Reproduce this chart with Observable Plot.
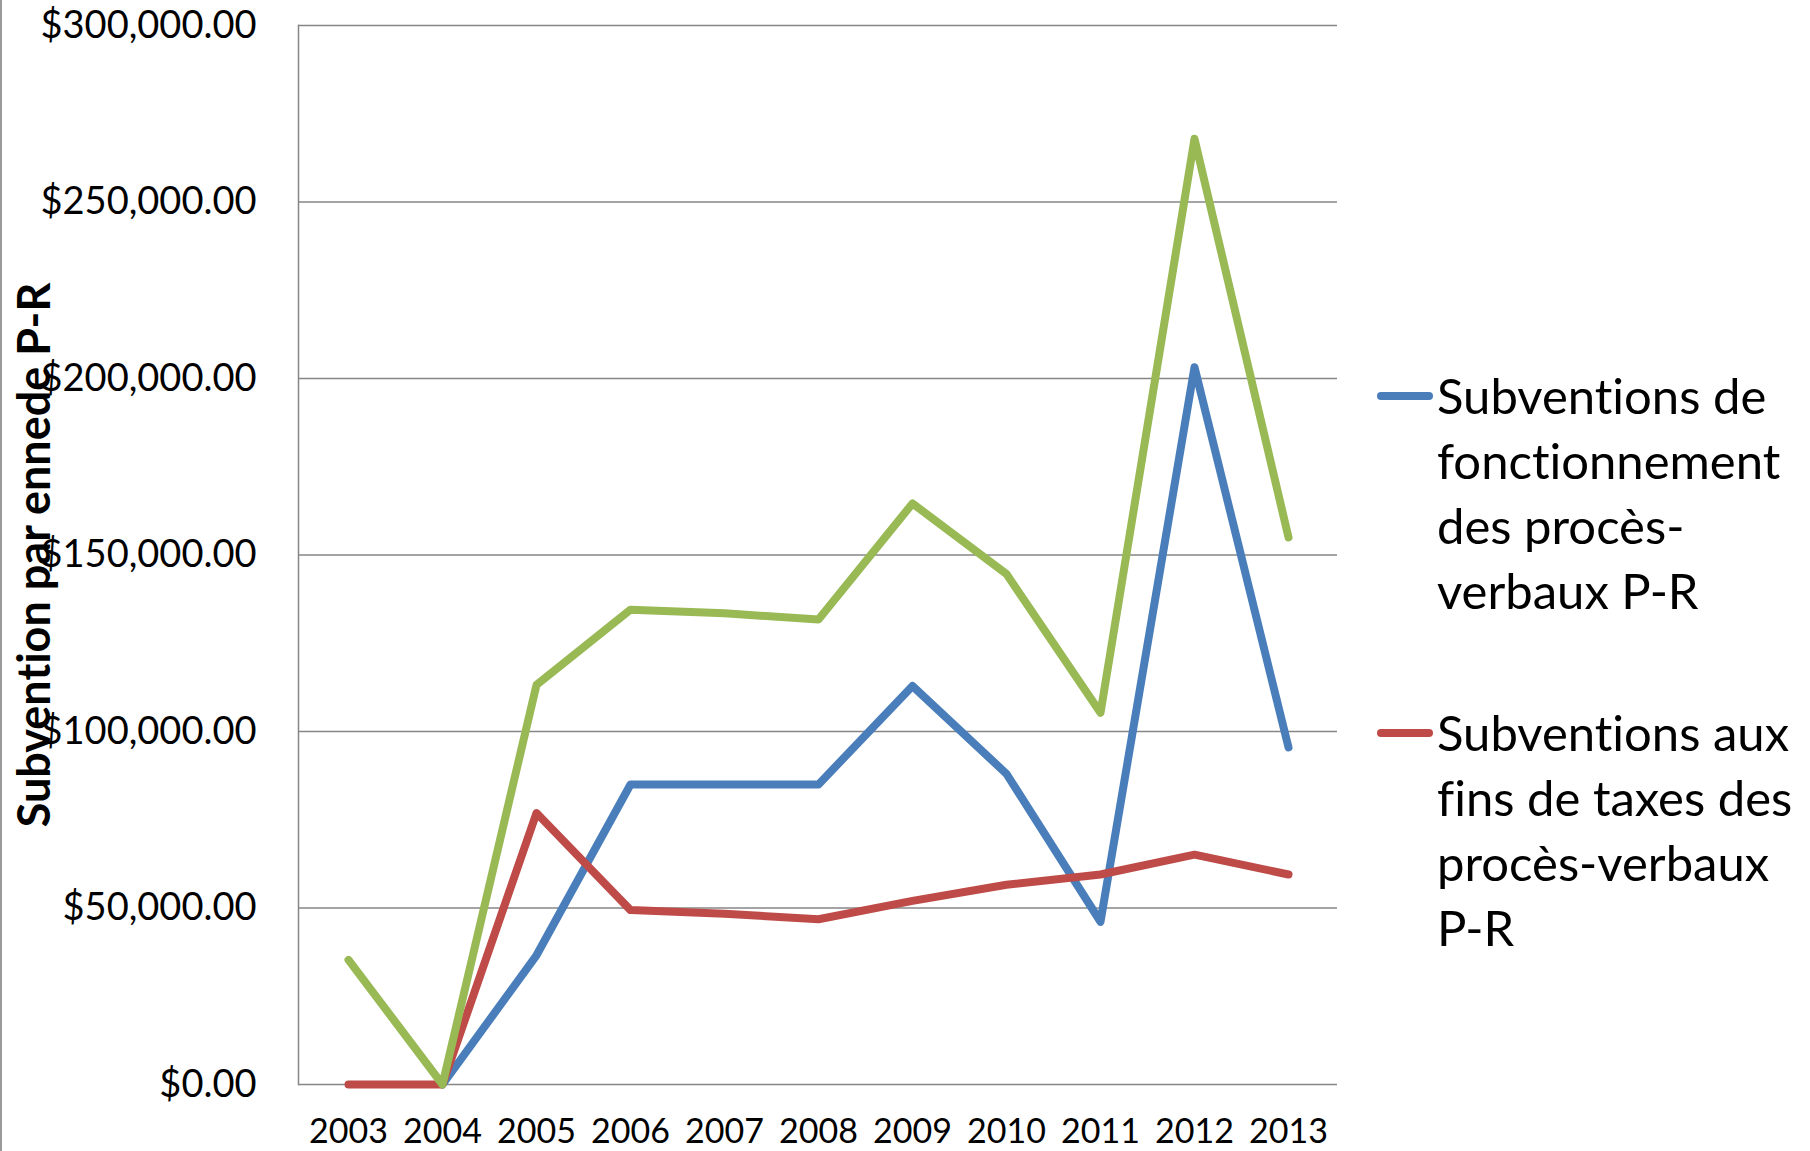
<!DOCTYPE html>
<html>
<head>
<meta charset="utf-8">
<script src="https://cdn.jsdelivr.net/npm/d3@7"></script>
<script src="https://cdn.jsdelivr.net/npm/@observablehq/plot@0.6"></script>
<style>
  body { margin: 0; background: #fff; }
  #wrap { position: relative; width: 1810px; height: 1151px; overflow: hidden; font-family: Lato, sans-serif; background: #fff; font-variant-ligatures: none; }
  #wrap svg { font-variant-ligatures: none; }
  #wrap > svg { position: absolute; left: 0; top: 0; }
  #border { position: absolute; left: 0; top: 0; width: 2px; height: 1151px; background: #9a9a9a; }
  #legend { position: absolute; left: 1377px; top: 363px; font-size: 49px; line-height: 65px; color: #000; white-space: nowrap; }
  .item { display: flex; align-items: flex-start; }
  .item + .item { margin-top: 77px; }
  .swatch { width: 56px; height: 8px; border-radius: 4px; margin-top: 29px; margin-right: 4px; flex: none; }
</style>
</head>
<body>
<div id="wrap"><div id="border"></div><div id="legend"></div></div>
<script>
const years = ["2003","2004","2005","2006","2007","2008","2009","2010","2011","2012","2013"];
const seriesNames = [
  "Subventions de fonctionnement des procès-verbaux P-R",
  "Subventions aux fins de taxes des procès-verbaux P-R",
  "Total"
];
const legendLines = [
  ["Subventions de", "fonctionnement", "des procès-", "verbaux P-R"],
  ["Subventions aux", "fins de taxes des", "procès-verbaux", "P-R"]
];
const seriesColors = ["#4A7EBB", "#BE4B48", "#98B954"];
const fonctionnement = [null, 0, 36600, 85000, 85000, 85000, 112900, 88000, 46100, 203200, 95500];
const taxes = [0, 0, 76900, 49400, 48400, 46800, 52000, 56600, 59500, 65100, 59500];
const total = [35300, 0, 113200, 134500, 133500, 131700, 164600, 144600, 105300, 267900, 155000];
const yTicks = [0, 50000, 100000, 150000, 200000, 250000, 300000];
const yTitle = "Subvention par ennede P-R";

const seriesValues = [fonctionnement, taxes, total];
const rows = seriesValues.flatMap((vals, i) =>
  vals.map((v, j) => ({series: seriesNames[i], year: years[j], value: v})).filter(d => d.value != null)
);

const chart = Plot.plot({
  width: 1810,
  height: 1151,
  marginLeft: 298,
  marginRight: 473,
  marginTop: 25,
  marginBottom: 67,
  style: {fontFamily: "Lato, sans-serif", background: "transparent", color: "#000"},
  x: {type: "point", domain: years, padding: 0.5},
  y: {domain: [0, 300000]},
  color: {domain: seriesNames, range: seriesColors},
  marks: [
    Plot.gridY(yTicks, {stroke: "#868686", strokeOpacity: 1, strokeWidth: 1.5}),
    Plot.frame({anchor: "left", stroke: "#868686", strokeWidth: 1.5}),
    Plot.axisY(yTicks, {tickSize: 0, tickPadding: 42, tickFormat: d3.format("$,.2f"), fontSize: 38, label: null}),
    Plot.axisX({tickSize: 0, tickPadding: 34, fontSize: 34, label: null}),
    Plot.line(rows, {x: "year", y: "value", z: "series", stroke: "series", strokeWidth: 8, strokeLinecap: "round", strokeLinejoin: "round"}),
    Plot.text([yTitle], {frameAnchor: "left", text: d => d, rotate: -90, dx: -263, textAnchor: "middle", fontSize: 45, fontWeight: "bold"})
  ]
});
document.getElementById("wrap").appendChild(chart);

const legend = document.getElementById("legend");
legendLines.forEach((lines, i) => {
  const item = document.createElement("div");
  item.className = "item";
  const sw = document.createElement("div");
  sw.className = "swatch";
  sw.style.background = seriesColors[i];
  const txt = document.createElement("div");
  txt.innerHTML = lines.join("<br>");
  item.appendChild(sw);
  item.appendChild(txt);
  legend.appendChild(item);
});
</script>
</body>
</html>
